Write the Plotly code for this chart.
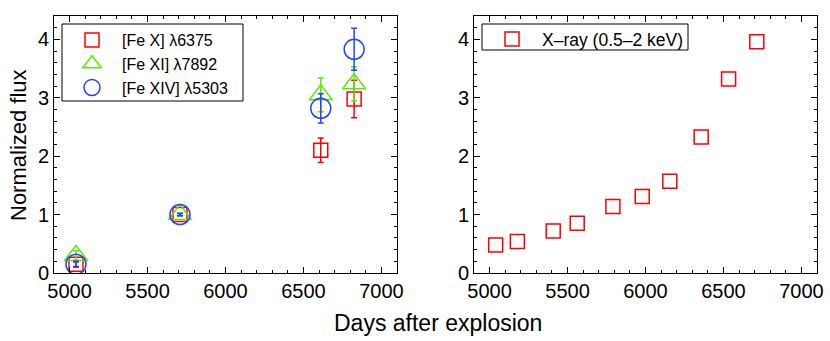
import plotly.graph_objects as go

# Left panel: coronal lines
days_lines = [5041, 5708, 6611, 6825]
fe10 = [0.15, 1.0, 2.10, 2.98]
fe10_err = [0.04, 0.02, 0.21, 0.32]
fe11 = [0.30, 1.0, 3.05, 3.24]
fe11_err = [0.08, 0.03, 0.29, 0.29]
fe14 = [0.15, 1.0, 2.82, 3.83]
fe14_err = [0.05, 0.02, 0.25, 0.36]

# Right panel: X-ray
days_xray = [5039, 5178, 5408, 5562, 5791, 5979, 6156, 6357, 6533, 6714]
xray = [0.48, 0.54, 0.72, 0.85, 1.14, 1.31, 1.57, 2.33, 3.32, 3.96]

labels = ["[Fe X] λ6375", "[Fe XI] λ7892", "[Fe XIV] λ5303"]
xray_label = "X–ray (0.5–2 keV)"
x_ticks = [5000, 5500, 6000, 6500, 7000]
y_ticks = [0, 1, 2, 3, 4]

RED = "#ff0000"
GREEN = "#55ee00"
BLUE = "#2244ff"
FONT = "Liberation Sans, Arial, sans-serif"

W, H = 830, 341
L, R, T, B = 54, 13, 16, 68
PW, PH = W - L - R, H - T - B

def px(x):
    return (x - L) / PW

def py(y):
    return (H - B - y) / PH

fig = go.Figure()

def add(x, y, err, name, color, symbol, size, xa, ya, legend, group):
    fig.add_trace(go.Scatter(
        x=x, y=y, mode="markers", name=name,
        marker=dict(symbol=symbol, size=size, color=color,
                    line=dict(color=color, width=1.5)),
        error_y=(dict(type="data", array=err, visible=True, color=color,
                      thickness=1.5, width=3) if err is not None else None),
        xaxis=xa, yaxis=ya, legend=legend, legendgroup=group,
    ))

add(days_lines, fe10, fe10_err, labels[0], RED, "square-open", 14, "x", "y", "legend", "a")
add(days_lines, fe11, fe11_err, labels[1], GREEN, "triangle-up-open", 20, "x", "y", "legend", "b")
add(days_lines, fe14, fe14_err, labels[2], BLUE, "circle-open", 20, "x", "y", "legend", "c")
add(days_xray, xray, None, xray_label, RED, "square-open", 14, "x2", "y2", "legend2", "d")

axis_common = dict(
    showline=True, linecolor="black", linewidth=1, mirror="allticks",
    ticks="inside", ticklen=6, tickcolor="black", tickwidth=1,
    showgrid=False, zeroline=False, automargin=False,
    tickfont=dict(family=FONT, size=20, color="black"),
)
xa = dict(axis_common, range=[4900, 7100], tickvals=x_ticks,
          minor=dict(dtick=100, ticks="inside", ticklen=3, tickcolor="black"))
ya = dict(axis_common, range=[0, 4.4], tickvals=y_ticks,
          minor=dict(dtick=0.2, ticks="inside", ticklen=3, tickcolor="black"))

box_line = dict(color="black", width=1)
fig.update_layout(
    width=W, height=H,
    margin=dict(l=L, r=R, t=T, b=B, autoexpand=False),
    plot_bgcolor="white", paper_bgcolor="white",
    font=dict(family=FONT, color="black"),
    xaxis=dict(xa, domain=[0, px(397)], anchor="y"),
    yaxis=dict(ya, domain=[0, 1], anchor="x"),
    xaxis2=dict(xa, domain=[px(474), 1], anchor="y2"),
    yaxis2=dict(ya, domain=[0, 1], anchor="x2"),
    legend=dict(x=px(62), y=py(23), xanchor="left", yanchor="top",
                borderwidth=0, bgcolor="rgba(0,0,0,0)",
                font=dict(family=FONT, size=16), itemwidth=50,
                tracegroupgap=0),
    legend2=dict(x=px(482), y=py(21), xanchor="left", yanchor="top",
                 borderwidth=0, bgcolor="rgba(0,0,0,0)",
                 font=dict(family=FONT, size=17.5), itemwidth=50),
    shapes=[
        dict(type="rect", xref="paper", yref="paper",
             x0=px(62), x1=px(243), y0=py(101), y1=py(24),
             line=box_line, fillcolor="white", layer="above"),
        dict(type="rect", xref="paper", yref="paper",
             x0=px(482), x1=px(688), y0=py(50), y1=py(24),
             line=box_line, fillcolor="white", layer="above"),
    ],
    annotations=[
        dict(text="Days after explosion", x=px(438), y=py(323),
             xref="paper", yref="paper", showarrow=False,
             xanchor="center", yanchor="middle",
             font=dict(family=FONT, size=23)),
        dict(text="Normalized flux", x=px(18), y=py(145),
             xref="paper", yref="paper", showarrow=False, textangle=-90,
             xanchor="center", yanchor="middle",
             font=dict(family=FONT, size=22)),
    ],
)

fig.write_html("out.html", config={"displayModeBar": False},
               post_script="document.body.style.margin='0';document.body.style.overflow='hidden';")
